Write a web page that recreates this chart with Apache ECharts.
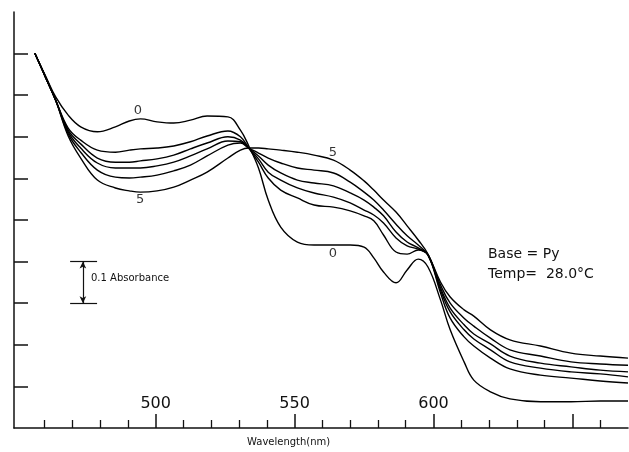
<!DOCTYPE html>
<html>
<head>
<meta charset="utf-8">
<script src="https://cdn.jsdelivr.net/npm/echarts@6/dist/echarts.min.js"></script>
<style>
html, body { margin: 0; padding: 0; background: #fff; }
#chart { width: 629px; height: 452px; }
</style>
</head>
<body>
<div id="chart"></div>
<script>
// wavelength grid (nm)
var wl = [456.5, 460.5, 464, 468.5, 473, 479, 485.5, 490.5, 494.5, 500.5, 506.5, 512.5, 518.5, 526, 530.5, 533.5, 537, 540.5, 545, 551,
          557, 564, 570, 575, 578.5, 582, 586.5, 590.5, 594.5, 598, 602.5, 606, 611, 614.5, 620.5, 627.5, 638.5, 649.5, 660, 670];

// absorbance of the six spectra, 0 .. 5
var abs0 = [0.901, 0.844, 0.796, 0.752, 0.724, 0.712, 0.724, 0.738, 0.743, 0.736, 0.733, 0.740, 0.750, 0.748, 0.716, 0.678, 0.625, 0.548, 0.483, 0.447,
            0.440, 0.440, 0.440, 0.435, 0.409, 0.375, 0.349, 0.380, 0.406, 0.387, 0.308, 0.236, 0.159, 0.115, 0.087, 0.070, 0.063, 0.063, 0.065, 0.065];
var abs1 = [0.901, 0.841, 0.788, 0.721, 0.692, 0.668, 0.663, 0.668, 0.671, 0.673, 0.678, 0.688, 0.702, 0.714, 0.700, 0.673, 0.639, 0.601, 0.572, 0.553,
            0.536, 0.531, 0.522, 0.510, 0.498, 0.464, 0.423, 0.418, 0.428, 0.416, 0.325, 0.264, 0.219, 0.197, 0.168, 0.142, 0.127, 0.120, 0.113, 0.108];
var abs2 = [0.901, 0.841, 0.788, 0.716, 0.683, 0.649, 0.639, 0.639, 0.642, 0.647, 0.656, 0.671, 0.685, 0.700, 0.692, 0.673, 0.647, 0.615, 0.596, 0.577,
            0.565, 0.555, 0.541, 0.524, 0.512, 0.493, 0.457, 0.438, 0.430, 0.416, 0.332, 0.279, 0.236, 0.214, 0.188, 0.159, 0.144, 0.135, 0.130, 0.123];
var abs3 = [0.901, 0.841, 0.788, 0.712, 0.673, 0.637, 0.625, 0.625, 0.625, 0.630, 0.639, 0.654, 0.671, 0.690, 0.688, 0.673, 0.654, 0.632, 0.613, 0.596,
            0.589, 0.582, 0.565, 0.548, 0.531, 0.510, 0.471, 0.447, 0.433, 0.416, 0.337, 0.288, 0.248, 0.226, 0.202, 0.173, 0.156, 0.147, 0.139, 0.135];
var abs4 = [0.901, 0.841, 0.788, 0.707, 0.663, 0.620, 0.603, 0.601, 0.603, 0.608, 0.618, 0.632, 0.654, 0.680, 0.685, 0.673, 0.661, 0.649, 0.637, 0.625,
            0.620, 0.613, 0.591, 0.567, 0.548, 0.524, 0.490, 0.462, 0.440, 0.416, 0.344, 0.300, 0.264, 0.245, 0.216, 0.188, 0.173, 0.159, 0.154, 0.151];
var abs5 = [0.901, 0.841, 0.788, 0.702, 0.649, 0.596, 0.577, 0.570, 0.567, 0.570, 0.579, 0.596, 0.615, 0.649, 0.668, 0.673, 0.673, 0.671, 0.668, 0.663,
            0.656, 0.644, 0.620, 0.594, 0.572, 0.548, 0.519, 0.486, 0.452, 0.418, 0.351, 0.315, 0.284, 0.269, 0.236, 0.212, 0.197, 0.180, 0.173, 0.168];

// tick positions
var majorTicks = [500, 550, 600, 650];
var labelTicks = [500, 550, 600];
var minorTicks = [460, 470, 480, 490, 510, 520, 530, 540, 560, 570, 580, 590, 610, 620, 630, 640, 660];
var yTicks = [0.1, 0.2, 0.3, 0.4, 0.5, 0.6, 0.7, 0.8, 0.9];

// curve number labels [wavelength, absorbance, text]
var curveLabels = [[493.6, 0.764, '0'], [494.4, 0.548, '5'], [563.8, 0.661, '5'], [563.8, 0.418, '0']];

// 0.1 absorbance scale bar
var barLow = 0.3, barHigh = 0.4, barLeft = 469.2, barRight = 478.9, barMid = 473.8;

var spectra = [abs0, abs1, abs2, abs3, abs4, abs5];
var font = 'DejaVu Sans';

function pairs(a) {
    var out = [];
    for (var i = 0; i < wl.length; i++) {
        out.push([wl[i], a[i]]);
    }
    return out;
}

var series = [];
for (var k = 0; k < spectra.length; k++) {
    series.push({
        type: 'line',
        data: pairs(spectra[k]),
        showSymbol: false,
        smooth: 0.4,
        silent: true,
        lineStyle: { color: '#000', width: 1.4 }
    });
}

series.push({
    type: 'scatter',
    data: curveLabels.map(function (d) { return { value: [d[0], d[1]], name: d[2] }; }),
    symbolSize: 0,
    silent: true,
    label: {
        show: true,
        position: 'inside',
        formatter: '{b}',
        color: '#000',
        fontFamily: font,
        fontSize: 13
    },
    markLine: {
        silent: true,
        symbol: ['none', 'none'],
        label: { show: false },
        lineStyle: { color: '#111', width: 1.2, type: 'solid' },
        data: [
            [{ coord: [barLeft, barLow] }, { coord: [barRight, barLow] }],
            [{ coord: [barLeft, barHigh] }, { coord: [barRight, barHigh] }],
            [{ coord: [barMid, barLow], symbol: 'arrow', symbolSize: [5, 7] },
             { coord: [barMid, barHigh], symbol: 'arrow', symbolSize: [5, 7] }]
        ]
    }
});

var option = {
    animation: false,
    backgroundColor: '#fff',
    grid: { left: 14, right: 1, top: 12, bottom: 24 },
    xAxis: [
        {
            type: 'value',
            min: 449,
            max: 670,
            axisLine: { show: true, lineStyle: { color: '#111', width: 1.5 } },
            axisTick: { show: true, inside: true, length: 14, customValues: majorTicks, lineStyle: { color: '#111', width: 1.5 } },
            axisLabel: { show: true, inside: true, margin: 16, customValues: labelTicks, color: '#111', fontFamily: font, fontSize: 16 },
            splitLine: { show: false }
        },
        {
            type: 'value',
            min: 449,
            max: 670,
            position: 'bottom',
            axisLine: { show: false },
            axisTick: { show: true, inside: true, length: 8, customValues: minorTicks, lineStyle: { color: '#111', width: 1.3 } },
            axisLabel: { show: false },
            splitLine: { show: false }
        }
    ],
    yAxis: {
        type: 'value',
        min: 0,
        max: 1.0,
        axisLine: { show: true, lineStyle: { color: '#111', width: 1.5 } },
        axisTick: { show: true, inside: true, length: 14, customValues: yTicks, lineStyle: { color: '#111', width: 1.5 } },
        axisLabel: { show: false },
        splitLine: { show: false }
    },
    graphic: [
        { type: 'text', left: 488, top: 247, style: { text: 'Base = Py', fill: '#111', font: '14px "DejaVu Sans"' } },
        { type: 'text', left: 488, top: 267, style: { text: 'Temp=  28.0\u00b0C', fill: '#111', font: '14px "DejaVu Sans"' } },
        { type: 'text', left: 91, top: 273, style: { text: '0.1 Absorbance', fill: '#111', font: '10px "DejaVu Sans"' } },
        { type: 'text', left: 247, top: 437, style: { text: 'Wavelength(nm)', fill: '#111', font: '10px "DejaVu Sans"' } }
    ],
    series: series
};

var chart = echarts.init(document.getElementById('chart'));
chart.setOption(option);
</script>
</body>
</html>
